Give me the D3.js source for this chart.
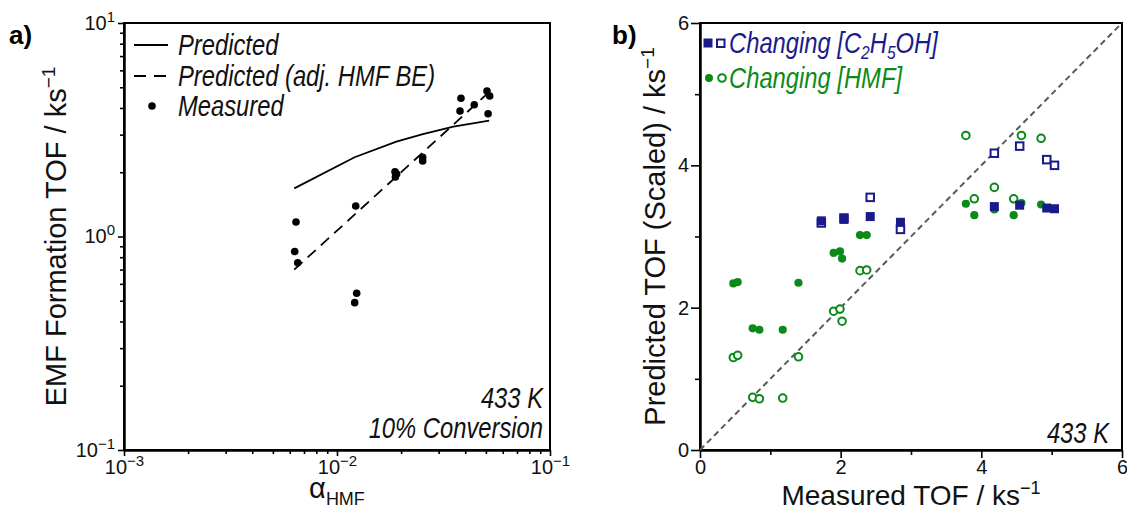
<!DOCTYPE html>
<html>
<head>
<meta charset="utf-8">
<script src="https://cdn.jsdelivr.net/npm/d3@7"></script>
<style>
  body { margin: 0; background: #fff; }
  svg { display: block; }
  .tick text { font-family: "Liberation Sans", Arial, sans-serif; font-size: 20px; fill: #111; }
  .narrow { font-family: "Liberation Sans", Arial, sans-serif; font-style: italic; }
</style>
</head>
<body>
<div id="chart"></div>
<script>
// panel a data (log-log)
const predX = [0.0063, 0.0121, 0.019, 0.0253, 0.0352, 0.0518];
const predY = [1.68, 2.35, 2.78, 3.02, 3.27, 3.49];
const adjX = [0.0063, 0.0512];
const adjY = [0.70, 4.70];
const measX = [0.00642, 0.00633, 0.00654, 0.01224, 0.01237, 0.01211, 0.01872, 0.01906, 0.0188, 0.02525, 0.02525, 0.0382, 0.0378, 0.0441, 0.0506, 0.0521, 0.0512];
const measY = [1.17, 0.85, 0.754, 1.39, 0.542, 0.49, 2.01, 1.96, 1.90, 2.35, 2.26, 4.44, 3.87, 4.14, 4.80, 4.55, 3.76];
const logTicksX = [1e-3, 1e-2, 1e-1];
const logTicksY = [0.1, 1, 10];

// panel b data (parity plot)
const ethX = [1.725, 2.047, 2.42, 2.85, 4.185, 4.545, 4.93, 5.04];
const ethFilled = [3.22, 3.24, 3.28, 3.20, 3.42, 3.44, 3.40, 3.39];
const ethOpen = [3.19, 3.26, 3.55, 3.10, 4.17, 4.27, 4.08, 4.00];
const hmfX = [0.474, 0.536, 0.749, 0.844, 1.176, 1.40, 1.90, 1.99, 2.02, 2.275, 2.37, 3.78, 3.90, 4.185, 4.46, 4.57, 4.85];
const hmfFilled = [2.34, 2.36, 1.71, 1.69, 1.69, 2.35, 2.77, 2.79, 2.69, 3.02, 3.02, 3.46, 3.30, 3.38, 3.30, 3.47, 3.45];
const hmfOpen = [1.30, 1.33, 0.74, 0.72, 0.73, 1.31, 1.95, 1.98, 1.81, 2.52, 2.53, 4.42, 3.53, 3.69, 3.53, 4.42, 4.38];
const linTicks = [0, 2, 4, 6];
const linMinor = [1, 3, 5];

const navy = '#1a1a8c';
const green = '#0b8a18';

const svg = d3.select('#chart').append('svg')
    .attr('width', 1127)
    .attr('height', 510);

function minorLog(lo, hi) {
    const out = [];
    for (let e = lo; e < hi; e++) {
        for (let m = 2; m <= 9; m++) out.push(m * Math.pow(10, e));
    }
    return out;
}

function styleAxis(g) {
    g.select('.domain').attr('stroke', '#000').attr('stroke-width', 2);
    g.selectAll('.tick line').attr('stroke', '#000').attr('stroke-width', 1.6);
}

function powLabels(g) {
    g.selectAll('.tick text').each(function(d) {
        const e = Math.round(Math.log10(d));
        const t = d3.select(this).text('10');
        t.append('tspan')
            .attr('dy', '-0.55em')
            .attr('font-size', '15px')
            .text(e < 0 ? '\u2212' + (-e) : String(e));
    });
}

// italic text squeezed sideways, like the narrow font of the original
function narrowText(x, y, str, color, anchor) {
    return svg.append('g')
        .attr('transform', `translate(${x},${y}) scale(0.82,1)`)
        .append('text')
        .attr('class', 'narrow')
        .attr('text-anchor', anchor || 'start')
        .attr('font-size', 29)
        .attr('fill', color || '#111')
        .text(str);
}

// ---------- panel a ----------
const A = { l: 124, r: 550, t: 23, b: 450 };
const xa = d3.scaleLog().domain([1e-3, 1e-1]).range([A.l, A.r]);
const ya = d3.scaleLog().domain([0.1, 10]).range([A.b, A.t]);

svg.append('g').attr('transform', `translate(0,${A.b})`)
    .call(d3.axisBottom(xa).tickValues(minorLog(-3, -1)).tickSize(4).tickSizeOuter(0).tickFormat(''))
    .call(styleAxis);
svg.append('g').attr('transform', `translate(0,${A.b})`)
    .call(d3.axisBottom(xa).tickValues(logTicksX).tickSize(6).tickSizeOuter(0).tickPadding(4))
    .call(styleAxis).call(powLabels);
svg.append('g').attr('transform', `translate(${A.l},0)`)
    .call(d3.axisLeft(ya).tickValues(minorLog(-1, 1)).tickSize(4).tickSizeOuter(0).tickFormat(''))
    .call(styleAxis);
svg.append('g').attr('transform', `translate(${A.l},0)`)
    .call(d3.axisLeft(ya).tickValues(logTicksY).tickSize(6).tickSizeOuter(0).tickPadding(3))
    .call(styleAxis).call(powLabels);
svg.append('rect').attr('x', A.l).attr('y', A.t).attr('width', A.r - A.l).attr('height', A.b - A.t)
    .attr('fill', 'none').attr('stroke', '#000').attr('stroke-width', 2);

const lineA = d3.line().x(d => xa(d[0])).y(d => ya(d[1]));
svg.append('path').datum(d3.zip(predX, predY)).attr('d', lineA)
    .attr('fill', 'none').attr('stroke', '#000').attr('stroke-width', 1.8);
svg.append('path').datum(d3.zip(adjX, adjY)).attr('d', lineA)
    .attr('fill', 'none').attr('stroke', '#000').attr('stroke-width', 1.8).attr('stroke-dasharray', '11,7');
svg.append('g').selectAll('circle').data(d3.zip(measX, measY)).join('circle')
    .attr('cx', d => xa(d[0])).attr('cy', d => ya(d[1])).attr('r', 3.8).attr('fill', '#000');

// legend a
svg.append('line').attr('x1', 134).attr('x2', 168).attr('y1', 45).attr('y2', 45)
    .attr('stroke', '#000').attr('stroke-width', 1.8);
svg.append('line').attr('x1', 134).attr('x2', 168).attr('y1', 76).attr('y2', 76)
    .attr('stroke', '#000').attr('stroke-width', 1.8).attr('stroke-dasharray', '12,8');
svg.append('circle').attr('cx', 152).attr('cy', 106).attr('r', 3.8).attr('fill', '#000');
const legA = ['Predicted', 'Predicted (adj. HMF BE)', 'Measured'];
legA.forEach((s, i) => narrowText(178, 55 + i * 30.5, s));

narrowText(543, 408, '433 K', '#111', 'end');
narrowText(543, 438, '10% Conversion', '#111', 'end');

// axis titles a
const ta = svg.append('text')
    .attr('transform', `translate(66,${(A.t + A.b) / 2}) rotate(-90)`)
    .attr('text-anchor', 'middle')
    .attr('font-family', 'Liberation Sans, Arial, sans-serif').attr('font-size', 29).attr('fill', '#111')
    .text('EMF Formation TOF / ks');
ta.append('tspan').attr('dy', '-0.6em').attr('font-size', 19).text('\u22121');

const xta = svg.append('text')
    .attr('x', (A.l + A.r) / 2).attr('y', 498)
    .attr('text-anchor', 'middle')
    .attr('font-family', 'Liberation Sans, Arial, sans-serif').attr('font-size', 29).attr('fill', '#111')
    .text('\u03b1');
xta.append('tspan').attr('dy', 7).attr('font-size', 18).text('HMF');

svg.append('text').attr('x', 9).attr('y', 44)
    .attr('font-family', 'Liberation Sans, Arial, sans-serif').attr('font-weight', 'bold')
    .attr('font-size', 26).attr('fill', '#000').text('a)');

// ---------- panel b ----------
const B = { l: 700, r: 1122, t: 23, b: 450 };
const xb = d3.scaleLinear().domain([0, 6]).range([B.l, B.r]);
const yb = d3.scaleLinear().domain([0, 6]).range([B.b, B.t]);

svg.append('g').attr('transform', `translate(0,${B.b})`)
    .call(d3.axisBottom(xb).tickValues(linMinor).tickSize(5).tickSizeOuter(0).tickFormat(''))
    .call(styleAxis);
svg.append('g').attr('transform', `translate(0,${B.b})`)
    .call(d3.axisBottom(xb).tickValues(linTicks).tickSize(8).tickSizeOuter(0).tickPadding(2).tickFormat(d3.format('d')))
    .call(styleAxis);
svg.append('g').attr('transform', `translate(${B.l},0)`)
    .call(d3.axisLeft(yb).tickValues(linMinor).tickSize(5).tickSizeOuter(0).tickFormat(''))
    .call(styleAxis);
svg.append('g').attr('transform', `translate(${B.l},0)`)
    .call(d3.axisLeft(yb).tickValues(linTicks).tickSize(9).tickSizeOuter(0).tickPadding(2).tickFormat(d3.format('d')))
    .call(styleAxis);
svg.append('rect').attr('x', B.l).attr('y', B.t).attr('width', B.r - B.l).attr('height', B.b - B.t)
    .attr('fill', 'none').attr('stroke', '#000').attr('stroke-width', 2);

// parity line
svg.append('line')
    .attr('x1', xb(0)).attr('y1', yb(0)).attr('x2', xb(6)).attr('y2', yb(6))
    .attr('stroke', '#5a5a5a').attr('stroke-width', 2).attr('stroke-dasharray', '6,4');

const sq = 7.5;
svg.append('g').selectAll('circle').data(d3.zip(hmfX, hmfOpen)).join('circle')
    .attr('cx', d => xb(d[0])).attr('cy', d => yb(d[1])).attr('r', 3.8)
    .attr('fill', '#fff').attr('stroke', green).attr('stroke-width', 2);
svg.append('g').selectAll('circle').data(d3.zip(hmfX, hmfFilled)).join('circle')
    .attr('cx', d => xb(d[0])).attr('cy', d => yb(d[1])).attr('r', 4.1)
    .attr('fill', green);
svg.append('g').selectAll('rect').data(d3.zip(ethX, ethOpen)).join('rect')
    .attr('x', d => xb(d[0]) - sq / 2).attr('y', d => yb(d[1]) - sq / 2)
    .attr('width', sq).attr('height', sq)
    .attr('fill', '#fff').attr('stroke', navy).attr('stroke-width', 2);
svg.append('g').selectAll('rect').data(d3.zip(ethX, ethFilled)).join('rect')
    .attr('x', d => xb(d[0]) - 4.5).attr('y', d => yb(d[1]) - 4.5)
    .attr('width', 9).attr('height', 9)
    .attr('fill', navy);

// legend b
svg.append('rect').attr('x', 703.5).attr('y', 38.5).attr('width', 9).attr('height', 9).attr('fill', navy);
svg.append('rect').attr('x', 717).attr('y', 39.5).attr('width', 7.5).attr('height', 7.5)
    .attr('fill', '#fff').attr('stroke', navy).attr('stroke-width', 2);
svg.append('circle').attr('cx', 709).attr('cy', 78).attr('r', 4).attr('fill', green);
svg.append('circle').attr('cx', 722).attr('cy', 78).attr('r', 3.8)
    .attr('fill', '#fff').attr('stroke', green).attr('stroke-width', 2);

const lb1 = narrowText(729, 53, 'Changing [C', navy);
lb1.append('tspan').attr('dy', 6).attr('font-size', 19).text('2');
lb1.append('tspan').attr('dy', -6).text('H');
lb1.append('tspan').attr('dy', 6).attr('font-size', 19).text('5');
lb1.append('tspan').attr('dy', -6).text('OH]');
narrowText(729, 88, 'Changing [HMF]', green);

narrowText(1109, 443, '433 K', '#111', 'end');

const tb = svg.append('text')
    .attr('transform', `translate(665,${(B.t + B.b) / 2}) rotate(-90)`)
    .attr('text-anchor', 'middle')
    .attr('font-family', 'Liberation Sans, Arial, sans-serif').attr('font-size', 29).attr('fill', '#111')
    .text('Predicted TOF (Scaled) / ks');
tb.append('tspan').attr('dy', '-0.6em').attr('font-size', 19).text('\u22121');

const xtb = svg.append('text')
    .attr('x', (B.l + B.r) / 2).attr('y', 505)
    .attr('text-anchor', 'middle')
    .attr('font-family', 'Liberation Sans, Arial, sans-serif').attr('font-size', 28).attr('fill', '#111')
    .text('Measured TOF / ks');
xtb.append('tspan').attr('dy', '-0.6em').attr('font-size', 18).text('\u22121');

svg.append('text').attr('x', 612).attr('y', 44)
    .attr('font-family', 'Liberation Sans, Arial, sans-serif').attr('font-weight', 'bold')
    .attr('font-size', 26).attr('fill', '#000').text('b)');
</script>
</body>
</html>
